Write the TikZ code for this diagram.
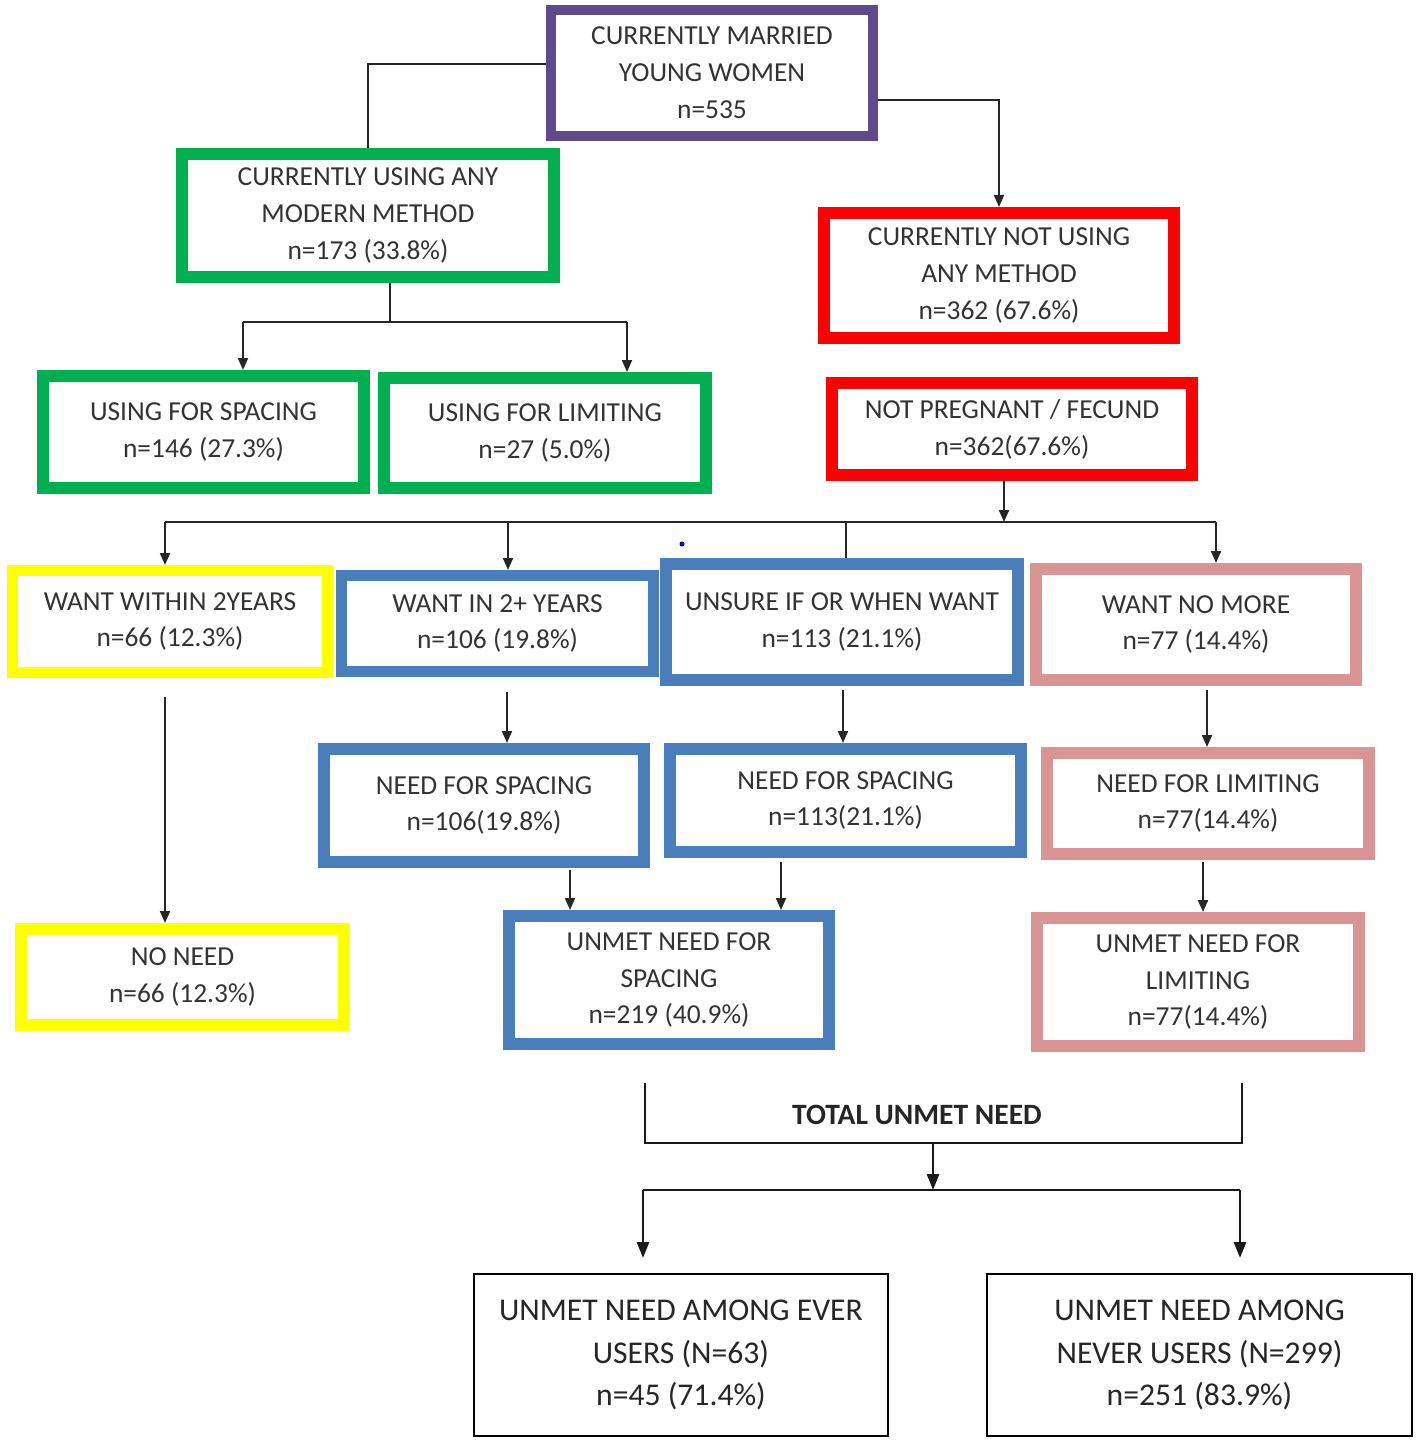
\documentclass[tikz,border=0pt]{standalone}
\usepackage{fontspec}
\setmainfont{Carlito}
\usetikzlibrary{arrows.meta,calc}
\definecolor{cpurple}{HTML}{5F4B8B}
\definecolor{cgreen}{HTML}{00B050}
\definecolor{cred}{HTML}{FF0000}
\definecolor{cblue}{HTML}{4A7EBB}
\definecolor{cpink}{HTML}{D99594}
\definecolor{cyellow}{HTML}{FFFF00}
\definecolor{ctext}{HTML}{333333}
\begin{document}
\begin{tikzpicture}[x=0.01cm,y=-0.01cm,
  sz/.style 2 args={minimum width=#1*0.01cm, minimum height=#2*0.01cm},
  lw/.style={line width=#1*0.01cm},
  box/.style={draw, fill=white, align=center, text=ctext, inner sep=0pt,
    font=\fontsize{7.8}{10.5}\selectfont},
  bigbox/.style={draw=black, fill=white, align=center, text=black!85, inner sep=0pt,
    line width=0.025cm, font=\fontsize{9}{12.2}\selectfont},
  conn/.style={draw=black!85, line width=0.02cm},
  arr/.style={conn, -{Triangle[length=0.12cm,width=0.1cm]}},
  bigconn/.style={draw=black!90, line width=0.028cm},
  bigarr/.style={bigconn, -{Triangle[length=0.16cm,width=0.12cm]}}
]
\useasboundingbox (0,0) rectangle (1418,1442);

% nodes
\node[box, draw=cpurple, lw=10, sz={322}{126}] (n1) at (712,73) {CURRENTLY MARRIED\\YOUNG WOMEN\\n=535};
\node[box, draw=cgreen, lw=12, sz={372}{123}] (n2) at (368,215.5) {CURRENTLY USING ANY\\MODERN METHOD\\n=173 (33.8\%)};
\node[box, draw=cred, lw=12, sz={350}{125}] (n3) at (999,275.5) {CURRENTLY NOT USING\\ANY METHOD\\n=362 (67.6\%)};
\node[box, draw=cgreen, lw=12, sz={321}{112}] (n4) at (203.5,432) {USING FOR SPACING\\n=146 (27.3\%)};
\node[box, draw=cgreen, lw=12, sz={322}{110}] (n5) at (545,433) {USING FOR LIMITING\\n=27 (5.0\%)};
\node[box, draw=cred, lw=12, sz={360}{92}] (n6) at (1012,429) {NOT PREGNANT / FECUND\\n=362(67.6\%)};
\node[box, draw=cyellow, lw=11, sz={315}{102}] (n7) at (170,621.5) {WANT WITHIN 2YEARS\\n=66 (12.3\%)};
\node[box, draw=cblue, lw=11, sz={312}{96}] (n8) at (497.5,623.5) {WANT IN 2+ YEARS\\n=106 (19.8\%)};
\node[box, draw=cblue, lw=12, sz={352}{116}] (n9) at (842,622) {UNSURE IF OR WHEN WANT\\n=113 (21.1\%)};
\node[box, draw=cpink, lw=12, sz={320}{111}] (n10) at (1196,624.5) {WANT NO MORE\\n=77 (14.4\%)};
\node[box, draw=cblue, lw=12, sz={320}{113}] (n11) at (484,805.5) {NEED FOR SPACING\\n=106(19.8\%)};
\node[box, draw=cblue, lw=12, sz={351}{103}] (n12) at (845.5,800.5) {NEED FOR SPACING\\n=113(21.1\%)};
\node[box, draw=cpink, lw=12, sz={322}{101}] (n13) at (1208,803.5) {NEED FOR LIMITING\\n=77(14.4\%)};
\node[box, draw=cyellow, lw=12, sz={323}{96}] (n14) at (182.5,977) {NO NEED\\n=66 (12.3\%)};
\node[box, draw=cblue, lw=12, sz={320}{128}] (n15) at (669,980) {UNMET NEED FOR\\SPACING\\n=219 (40.9\%)};
\node[box, draw=cpink, lw=12, sz={322}{128}] (n16) at (1198,982) {UNMET NEED FOR\\LIMITING\\n=77(14.4\%)};
\node[bigbox, sz={414}{162}] (n17) at (681,1355) {UNMET NEED AMONG EVER\\USERS (N=63)\\n=45 (71.4\%)};
\node[bigbox, sz={425}{162}] (n18) at (1199.5,1355) {UNMET NEED AMONG\\NEVER USERS (N=299)\\n=251 (83.9\%)};
\node[font=\bfseries\fontsize{8.4}{10}\selectfont, text=black!85, inner sep=0pt] (tl) at (917,1115) {TOTAL UNMET NEED};

% top connectors
\draw[conn] ($(n1.west)+(0,-9)$) -| (n2.north);
\draw[arr] ($(n1.east)+(0,27)$) -| (n3.north);

% green split
\coordinate (jA) at (390,322);
\coordinate (bA1) at (243,322);
\coordinate (bA2) at (627,322);
\draw[conn] (n2.south -| jA) -- (jA);
\draw[conn] (bA1) -- (bA2);
\draw[arr] (bA1) -- (bA1 |- n4.north);
\draw[arr] (bA2) -- (bA2 |- n5.north);

% red chain
\draw[conn] ($(n3.south)+(3,0)$) -- ($(n3.south)+(3,0)$ |- n6.north);
\coordinate (jB) at (1004,522);
\coordinate (bB1) at (165,522);
\coordinate (bB2) at (508,522);
\coordinate (bB3) at (846,522);
\coordinate (bB4) at (1216,522);
\draw[arr] (n6.south -| jB) -- (jB);
\draw[conn] (bB1) -- (bB4);
\draw[arr] (bB1) -- (bB1 |- n7.north);
\draw[arr] (bB2) -- (bB2 |- n8.north);
\draw[conn] (bB3) -- (bB3 |- n9.north);
\draw[arr] (bB4) -- (bB4 |- n10.north);

% second level
\coordinate (s7) at (165,697);
\draw[arr] (s7) -- (s7 |- n14.north);
\coordinate (s8) at (507,692);
\draw[arr] (s8) -- (s8 |- n11.north);
\coordinate (s9) at (843,690);
\draw[arr] (s9) -- (s9 |- n12.north);
\coordinate (s10) at (1207,690);
\draw[arr] (s10) -- (s10 |- n13.north);

% third level
\coordinate (s11) at (570,870);
\draw[arr] (s11) -- (s11 |- n15.north);
\coordinate (s12) at (781,862);
\draw[arr] (s12) -- (s12 |- n15.north);
\coordinate (s13) at (1203,862);
\draw[arr] (s13) -- (s13 |- n16.north);

% total unmet need bracket
\coordinate (t1) at (645,1083);
\coordinate (t2) at (645,1143);
\coordinate (t3) at (1242,1143);
\coordinate (t4) at (1242,1083);
\draw[bigconn] (t1) -- (t2) -- (t3) -- (t4);
\coordinate (tm) at (933,1143);
\coordinate (jC) at (933,1190);
\draw[bigarr] (tm) -- (jC);
\coordinate (bC1) at (643,1190);
\coordinate (bC2) at (1240,1190);
\coordinate (eC1) at (643,1258);
\coordinate (eC2) at (1240,1258);
\draw[bigconn] (bC1) -- (bC2);
\draw[bigarr] (bC1) -- (eC1);
\draw[bigarr] (bC2) -- (eC2);

% stray dot
\fill[blue!80!black] (682,544) circle[radius=2.5];
\end{tikzpicture}
\end{document}
